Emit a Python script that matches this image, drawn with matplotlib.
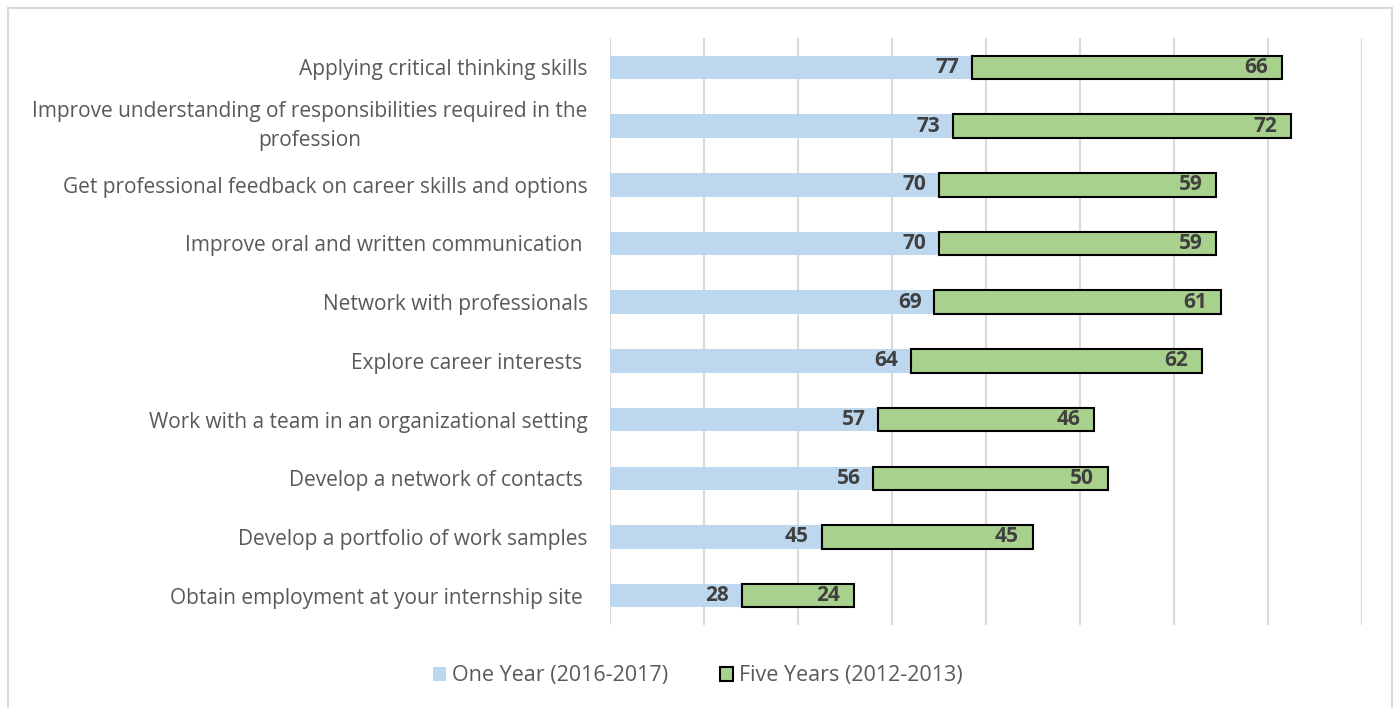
import matplotlib.pyplot as plt
from matplotlib.patches import Rectangle

categories = [
    "Applying critical thinking skills",
    "Improve understanding of responsibilities required in the\nprofession",
    "Get professional feedback on career skills and options",
    "Improve oral and written communication ",
    "Network with professionals",
    "Explore career interests ",
    "Work with a team in an organizational setting",
    "Develop a network of contacts ",
    "Develop a portfolio of work samples",
    "Obtain employment at your internship site ",
]
one_year = [77, 73, 70, 70, 69, 64, 57, 56, 45, 28]
five_years = [66, 72, 59, 59, 61, 62, 46, 50, 45, 24]

plt.rcParams['font.family'] = ['Open Sans', 'DejaVu Sans']

fig = plt.figure(figsize=(13.96, 7.08), dpi=100)
ax = fig.add_axes([0.437, 0.1172, 0.5386, 0.8291])

# outer chart frame
fig.patches.append(Rectangle((8 / 1396, -0.05), 1384 / 1396, 1 - 8 / 708 + 0.05,
                             transform=fig.transFigure, fill=False,
                             edgecolor='#d9d9d9', linewidth=1.5))

y = list(range(len(categories)))
b1 = ax.barh(y, one_year, height=0.4, color='#bdd7ee', label='One Year (2016-2017)', zorder=2)
b2 = ax.barh(y, five_years, left=one_year, height=0.4, color='#a9d18e',
             edgecolor='black', linewidth=1.5, label='Five Years (2012-2013)', zorder=2)

for i in y:
    ax.annotate(str(one_year[i]), (one_year[i], i), xytext=(-9, 0), textcoords='offset points',
                ha='right', va='center', fontsize=15, fontweight='bold', color='#404040', zorder=3)
    end = one_year[i] + five_years[i]
    ax.annotate(str(five_years[i]), (end, i), xytext=(-10, 0), textcoords='offset points',
                ha='right', va='center', fontsize=15, fontweight='bold', color='#404040', zorder=3)

ax.set_xlim(0, 160)
ax.set_ylim(len(categories) - 0.5, -0.5)
ax.set_xticks(range(0, 161, 20))
ax.set_xticklabels([])
ax.grid(axis='x', color='#d9d9d9', linewidth=1.5, zorder=0)
ax.set_yticks(y)
ax.set_yticklabels(categories, fontsize=15, color='#595959', multialignment='center',
                   linespacing=1.5)
for lbl in ax.get_yticklabels():
    if '\n' in lbl.get_text():
        lbl.set_verticalalignment('center')
ax.tick_params(axis='both', length=0, pad=16)
for s in ax.spines.values():
    s.set_visible(False)

fig.legend(handles=[b1, b2], loc='center', bbox_to_anchor=(0.5, 1 - 676 / 708), ncol=2,
           frameon=False, fontsize=15.5, labelcolor='#595959', handlelength=0.6,
           handleheight=0.6, columnspacing=2.4, handletextpad=0.3)

fig.savefig('out.png', dpi=100)
